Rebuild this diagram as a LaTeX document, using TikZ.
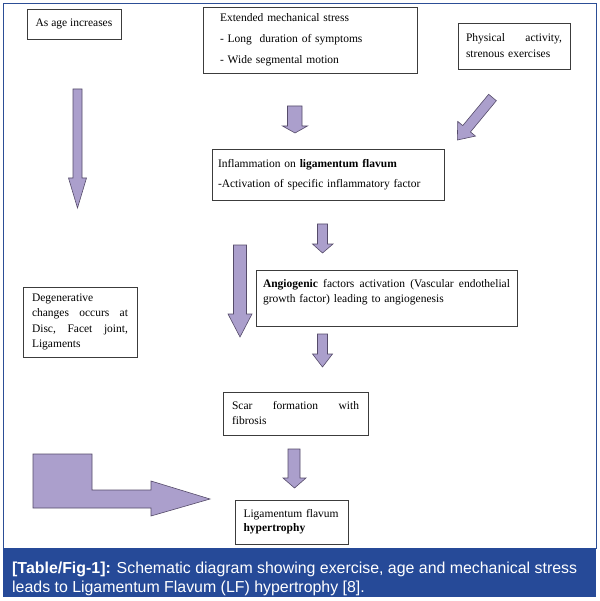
\documentclass[tikz,border=0pt]{standalone}
\usepackage{fontspec}
\setmainfont{Liberation Serif}
\newfontfamily\capfont{Liberation Sans}
\definecolor{lav}{RGB}{171,159,204}
\definecolor{lavline}{RGB}{85,75,105}
\definecolor{boxgray}{RGB}{60,60,60}
\definecolor{framecol}{RGB}{44,78,150}
\definecolor{bandcol}{RGB}{38,74,152}
\begin{document}
\begin{tikzpicture}[x=1pt,y=-1pt,
  box/.style={draw=boxgray, line width=0.9pt, rectangle, inner ysep=0pt},
  fs/.style={font=\fontsize{11.5}{#1}\selectfont},
  blk/.style={fill=lav, draw=lavline, line width=0.6pt, line join=miter},
  captext/.style={anchor=base west, inner sep=0pt, text=white, font=\capfont\fontsize{15.9}{19}\selectfont}]
\useasboundingbox (0,0) rectangle (599,601);
\fill[white] (0,0) rectangle (599,601);
\draw[framecol, line width=1pt] (3,4) rectangle (596,548);
\fill[bandcol] (3,548) rectangle (596,597);

% boxes
\node[box, fs=14, minimum width=94, minimum height=30, align=center] (age) at (74,24) {As age increases};
\node[box, fs=21, minimum width=214, minimum height=66, inner xsep=17pt, text width=180pt, align=left] (stress) at (310,40)
  {Extended mechanical stress\\- Long\ \ duration of symptoms\\- Wide segmental motion};
\node[box, fs=16, minimum width=112, minimum height=46, inner xsep=8pt, text width=96pt, align=left] (phys) at (514,46)
  {Physical\hfill activity,\\strenous exercises};
\node[box, fs=20, minimum width=232, minimum height=51, inner xsep=6pt, text width=220pt, align=left] (infl) at (328,174.5)
  {Inflammation on \textbf{ligamentum flavum}\\-Activation of specific inflammatory factor};
\node[box, fs=15.3, minimum width=114, minimum height=70, inner xsep=9pt, text width=96pt, align=left] (degen) at (80,322)
  {Degenerative\\changes\hfill occurs\hfill at\\Disc,\hfill Facet\hfill joint,\\Ligaments};
\node[box, fs=15, minimum width=261, minimum height=56, inner xsep=7pt, text width=247pt, align=left] (angio) at (386.5,298)
  {\textbf{Angiogenic}\hfill factors\hfill activation\hfill (Vascular\hfill endothelial\\growth factor) leading to angiogenesis\\\mbox{}};
\node[box, fs=15, minimum width=145, minimum height=43, inner xsep=9pt, text width=127pt, align=left] (scar) at (295.5,413.5)
  {Scar\hfill formation\hfill with\\fibrosis};
\node[box, fs=14, minimum width=113, minimum height=44, inner xsep=8.5pt, text width=96pt, align=left] (lf) at (291.5,522)
  {Ligamentum flavum\\\textbf{hypertrophy}};

% block arrows
% left long arrow (age)
\draw[blk] (73,89) -- (82,89) -- (82,178) -- (86.5,178) -- (77.5,208) -- (68.5,178) -- (73,178) -- cycle;
% under stress
\draw[blk] (287.5,106) -- (302,106) -- (302,126) -- (307.5,126) -- (295,133) -- (282.5,126) -- (287.5,126) -- cycle;
% diagonal from physical activity
\draw[blk] (496.35,100.69) -- (488.65,94.31) -- (462.76,125.58) -- (457.75,121.44) -- (457.3,140.02)
  -- (475.47,136.10) -- (470.46,131.96) -- cycle;
% under inflammation
\draw[blk] (317.5,224) -- (327.5,224) -- (327.5,244) -- (333,244) -- (322.5,253) -- (312.5,244) -- (317.5,244) -- cycle;
% big middle arrow
\draw[blk] (233.5,245) -- (246.5,245) -- (246.5,314) -- (252,314) -- (240,337) -- (228,314) -- (233.5,314) -- cycle;
% under angiogenic
\draw[blk] (317.5,334) -- (327.5,334) -- (327.5,354) -- (332.5,354) -- (322.5,367) -- (312.5,354) -- (317.5,354) -- cycle;
% under scar
\draw[blk] (288,449) -- (300,449) -- (300,478) -- (306,478) -- (294.5,488) -- (283,478) -- (288,478) -- cycle;
% bent arrow
\draw[blk] (33,454) -- (92,454) -- (92,490) -- (151,490) -- (151,481) -- (210,499) -- (151,516) -- (151,508) -- (33,508) -- cycle;

% caption
\node[captext] (cap1) at (12,573) {\textbf{[Table/Fig-1]:} Schematic diagram showing exercise, age and mechanical stress};
\node[captext] (cap2) at (12,592) {leads to Ligamentum Flavum (LF) hypertrophy [8].};
\end{tikzpicture}
\end{document}
